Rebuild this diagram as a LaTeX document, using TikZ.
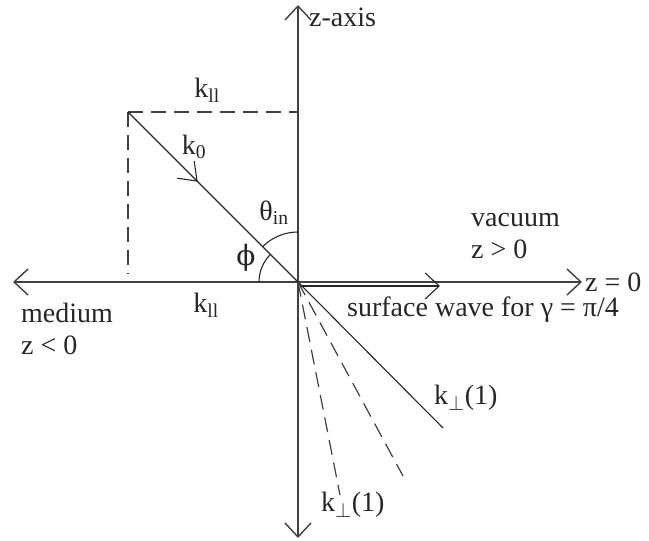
\documentclass[tikz,border=0pt]{standalone}
\usepackage{fontspec}
\setmainfont{Liberation Serif}
\newfontfamily\phifont{DejaVu Serif}
\usetikzlibrary{positioning,arrows.meta,decorations.markings,calc}

\begin{document}
\begin{tikzpicture}[
        x=1pt, y=1pt,
        font=\fontsize{28}{32}\selectfont,
        barb/.tip={Straight Barb[length=14pt, width=26pt]},
        axis/.style={line width=1.4pt, draw=black!75},
        ray/.style={line width=1.1pt, draw=black!85},
        dashline/.style={line width=1.2pt, draw=black!75, dash pattern=on 15pt off 8pt},
        midarrow/.style={postaction={decorate}, decoration={markings,
            mark=at position 0.41 with {\arrow{Straight Barb[length=16pt, width=24pt]}}}},
        lbl/.style={inner sep=2pt, text=black!85}
    ]

    \useasboundingbox (0,0) rectangle (649,541);

    % Step 1: points of the construction
    \coordinate (O)      at (298,259);
    \coordinate (ztop)   at (298,536);
    \coordinate (zbot)   at (298,3);
    \coordinate (xleft)  at (13,259);
    \coordinate (xright) at (582,259);
    \coordinate (kstart) at (128,429);
    \coordinate (kproj)  at (298,429);
    \coordinate (kfoot)  at (128,267);
    \coordinate (kend)   at (443,113);
    \coordinate (evanA)  at (403,65);
    \coordinate (evanB)  at (340,46);
    \coordinate (swA)    at (300,255);
    \coordinate (swB)    at (440,255);

    % Step 2: axes
    \draw[axis, barb-barb] (xleft) -- (xright);
    \draw[axis, barb-barb] (zbot) -- (ztop);
    \draw[ray, -barb] (swA) -- (swB);

    % Step 3: incident and transmitted waves
    \draw[dashline] (kstart) -- (kproj);
    \draw[dashline] (kstart) -- (kfoot);
    \draw[ray, midarrow] (kstart) -- (O);
    \draw[ray] (O) -- (kend);
    \draw[dashline] (O) -- (evanA);
    \draw[dashline] (O) -- (evanB);

    % Step 4: angles
    \draw[ray] ($(O)+(0,50)$) arc[start angle=90, end angle=135, radius=50];
    \draw[ray] ($(O)+(-39,0)$) arc[start angle=180, end angle=135, radius=39];

    % Step 5: labels
    \node[lbl, anchor=west] (zaxis) at (307,524) {z-axis};
    \node[lbl] (kpartop) at (207,451) {k\textsubscript{ll}};
    \node[lbl] (kzero) at (194,394) {k\textsubscript{0}};
    \node[lbl] (theta) at (274,328) {θ\textsubscript{in}};
    \node[lbl] (phi) at (246,283) {\phifont ϕ};
    \node[lbl, anchor=west, align=left] (vac) at (469,305) {vacuum\\z > 0};
    \node[lbl, right=1pt of xright] (zzero) {z = 0};
    \node[lbl, anchor=west, align=left] (med) at (19,212) {medium\\z < 0};
    \node[lbl] (kparbot) at (206,236) {k\textsubscript{ll}};
    \node[lbl, anchor=west] (swave) at (345,231) {surface wave for γ = π/4};
    \node[lbl, anchor=west] (kperpA) at (432,143) {k\textsubscript{$\perp$}(1)};
    \node[lbl, anchor=west] (kperpB) at (319,36) {k\textsubscript{$\perp$}(1)};

\end{tikzpicture}
\end{document}
